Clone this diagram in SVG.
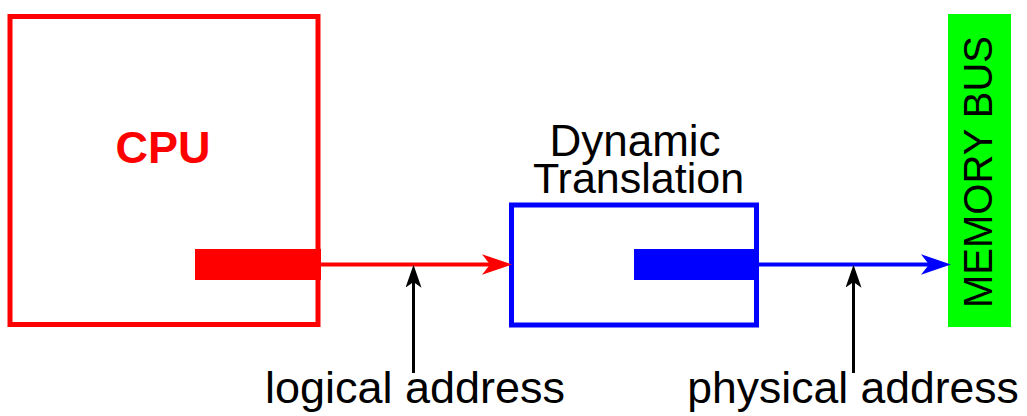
<svg xmlns="http://www.w3.org/2000/svg" width="1027" height="416" viewBox="0 0 1027 416">
<style>
.txt{font-family:"Liberation Sans",Arial,sans-serif;fill:#000}
.box{fill:none;stroke-width:5}
</style>
<defs>
<marker id="ahRed" markerUnits="userSpaceOnUse" markerWidth="30" markerHeight="22" viewBox="0 0 26 18" refX="7" refY="9" orient="auto"><path d="M0,0 L26,9 L0,18 L7,9 z" fill="#ff0000"/></marker>
<marker id="ahBlue" markerUnits="userSpaceOnUse" markerWidth="30" markerHeight="22" viewBox="0 0 26 18" refX="7" refY="9" orient="auto"><path d="M0,0 L26,9 L0,18 L7,9 z" fill="#0000ff"/></marker>
<marker id="ahBlack" markerUnits="userSpaceOnUse" markerWidth="24" markerHeight="16" viewBox="0 0 20 14" refX="5" refY="7" orient="auto"><path d="M0,0 L20,7 L0,14 L5,7 z" fill="#000"/></marker>
</defs>
<rect width="1027" height="416" fill="#fff"/>
<g id="cpu">
<rect class="box" x="10" y="16.5" width="308" height="308" stroke="#ff0000"/>
<rect x="195" y="249" width="126" height="31" fill="#ff0000"/>
<text class="txt" x="163" y="163" font-size="45" font-weight="bold" text-anchor="middle" style="fill:#ff0000">CPU</text>
</g>
<g id="translation">
<rect class="box" x="511.5" y="205" width="245" height="120" stroke="#0000ff"/>
<rect x="634" y="249" width="124" height="31" fill="#0000ff"/>
<text class="txt" x="635" y="156" font-size="44" text-anchor="middle">Dynamic</text>
<text class="txt" x="638.5" y="193" font-size="43" text-anchor="middle">Translation</text>
</g>
<g id="memorybus">
<rect x="948" y="14" width="63" height="313" fill="#00ff00"/>
<text class="txt" transform="translate(991.5,172) rotate(-90)" x="0" y="0" font-size="40" text-anchor="middle">MEMORY BUS</text>
</g>
<g id="labels">
<text class="txt" x="415" y="403" font-size="45" text-anchor="middle">logical address</text>
<text class="txt" x="853" y="403" font-size="44.5" text-anchor="middle">physical address</text>
</g>
<g id="connectors" fill="none">
<line x1="320" y1="264.5" x2="490" y2="264.5" stroke="#ff0000" stroke-width="4" marker-end="url(#ahRed)"/>
<line x1="757" y1="264.5" x2="929" y2="264.5" stroke="#0000ff" stroke-width="4" marker-end="url(#ahBlue)"/>
<line x1="413.5" y1="373" x2="413.5" y2="282" stroke="#000" stroke-width="3" marker-end="url(#ahBlack)"/>
<line x1="853.5" y1="373" x2="853.5" y2="282" stroke="#000" stroke-width="3" marker-end="url(#ahBlack)"/>
</g>
</svg>
